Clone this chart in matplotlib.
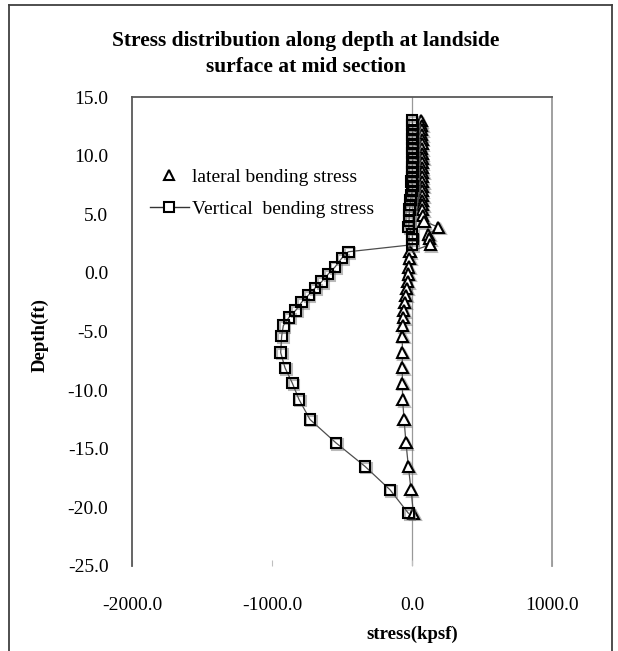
import matplotlib
matplotlib.use("Agg")
import matplotlib.pyplot as plt
import matplotlib.patheffects as pe
from matplotlib.lines import Line2D

plt.rcParams['font.family'] = ['Liberation Serif', 'DejaVu Serif']

# Depth of each sampling point (ft)
depth = [13.0, 12.6, 12.2, 11.8, 11.4, 11.0, 10.6, 10.2, 9.8, 9.4,
         9.0, 8.6, 8.2, 7.8, 7.4, 7.0, 6.6, 6.2, 5.8, 5.4,
         4.9, 4.4, 3.9, 3.3, 2.9, 2.4,
         1.8, 1.25, 0.5, -0.1, -0.75, -1.3, -1.9, -2.5, -3.2, -3.8,
         -4.5, -5.4, -6.8, -8.1, -9.4, -10.8, -12.5, -14.5, -16.5, -18.5, -20.5]

# Lateral bending stress (kpsf)
lateral = [66, 68, 70, 70, 72, 72, 70, 72, 74, 72,
           72, 74, 72, 74, 74, 72, 74, 72, 74, 74,
           76, 86, 188, 117, 124, 129,
           -14, -19, -24, -26, -31, -38, -45, -52, -58, -62,
           -66, -69, -69, -69, -69, -67, -57, -43, -26, -7, 10]

# Vertical bending stress (kpsf)
vertical = [2, 4, 6, 4, 2, 6, 4, 2, 6, 4,
            2, 4, 0, -4, 6, 2, -6, -10, -14, -18,
            -20, -21, -24, 2, 4, 2,
            -455, -502, -550, -598, -645, -693, -740, -788, -831, -879,
            -919, -931, -938, -907, -855, -807, -729, -543, -336, -157, -26]

title_text = "Stress distribution along depth at landside\nsurface at mid section"
x_ticks = [-2000, -1000, 0, 1000]
y_ticks = [15, 10, 5, 0, -5, -10, -15, -20, -25]

W, H = 618, 651
fig = plt.figure(figsize=(W / 100, H / 100), dpi=100)
ax = fig.add_axes([132 / W, 1 - 566 / H, (552 - 132) / W, (566 - 97) / H])

shadow = [pe.SimpleLineShadow(offset=(1.2, -1.2), shadow_color='0.4', alpha=0.45), pe.Normal()]

# connecting line of the lateral series
ax.plot(lateral, depth, color='0.3', lw=0.9, zorder=2)
ax.plot(lateral, depth, linestyle='none', marker='^', ms=8, mfc='white', mec='black',
        mew=1.5, zorder=3, path_effects=shadow)

ax.plot(vertical, depth, color='0.3', lw=0.9, zorder=4)
ax.plot(vertical, depth, linestyle='none', marker='s', ms=7.5, mfc='none', mec='black',
        mew=1.5, zorder=5, path_effects=shadow)

ax.axvline(0, color='0.6', lw=0.9, zorder=1)

ax.set_xlim(-2000, 1000)
ax.set_ylim(-25, 15)
ax.set_xticks(x_ticks)
ax.set_yticks(y_ticks)
ax.set_xticklabels([f"{v:.1f}" for v in x_ticks])
ax.set_yticklabels([f"{v:.1f}" for v in y_ticks])
ax.tick_params(axis='x', direction='in', length=4, width=0.8, color='0.75',
               pad=22, labelsize=14)
ax.tick_params(axis='y', length=0, pad=17, labelsize=14)

for side, col in (('left', '0.35'), ('top', '0.35'), ('right', '0.6')):
    ax.spines[side].set_color(col)
    ax.spines[side].set_linewidth(1.3)
ax.spines['bottom'].set_visible(False)

ax.set_ylabel("Depth(ft)", fontsize=13.5, fontweight='bold', labelpad=0)
ax.yaxis.set_label_coords(49 / W, 1 - 335 / H, transform=fig.transFigure)
fig.text(412 / W, 1 - 634 / H, "stress(kpsf)", fontsize=13.5, fontweight='bold',
         ha='center', va='center')

fig.text(306 / W, 1 - 54 / H, title_text, fontsize=15.5, fontweight='bold',
         ha='center', va='center', linespacing=1.35)

handles = [Line2D([], [], linestyle='none', marker='^', ms=6.5, mfc='white', mec='black', mew=1.5),
           Line2D([], [], color='0.2', lw=1.0, marker='s', ms=6.5, mfc='white', mec='black', mew=1.5)]
ax.legend(handles, ["lateral bending stress", "Vertical  bending stress"],
          loc='upper left', bbox_to_anchor=(150 / W, 1 - 168 / H),
          bbox_transform=fig.transFigure, frameon=False, fontsize=14,
          handlelength=2.0, handletextpad=0.15, labelspacing=0.75, borderpad=0,
          borderaxespad=0)

# outer chart frame
fig.add_artist(Line2D([8.5 / W, 8.5 / W], [0, 1 - 5 / H], transform=fig.transFigure,
                      color='0.25', lw=1.3))
fig.add_artist(Line2D([8.5 / W, 612 / W], [1 - 5 / H, 1 - 5 / H], transform=fig.transFigure,
                      color='0.25', lw=1.3))
fig.add_artist(Line2D([612 / W, 612 / W], [0, 1 - 5 / H], transform=fig.transFigure,
                      color='0.25', lw=1.3))

fig.savefig("out.png", dpi=100)
